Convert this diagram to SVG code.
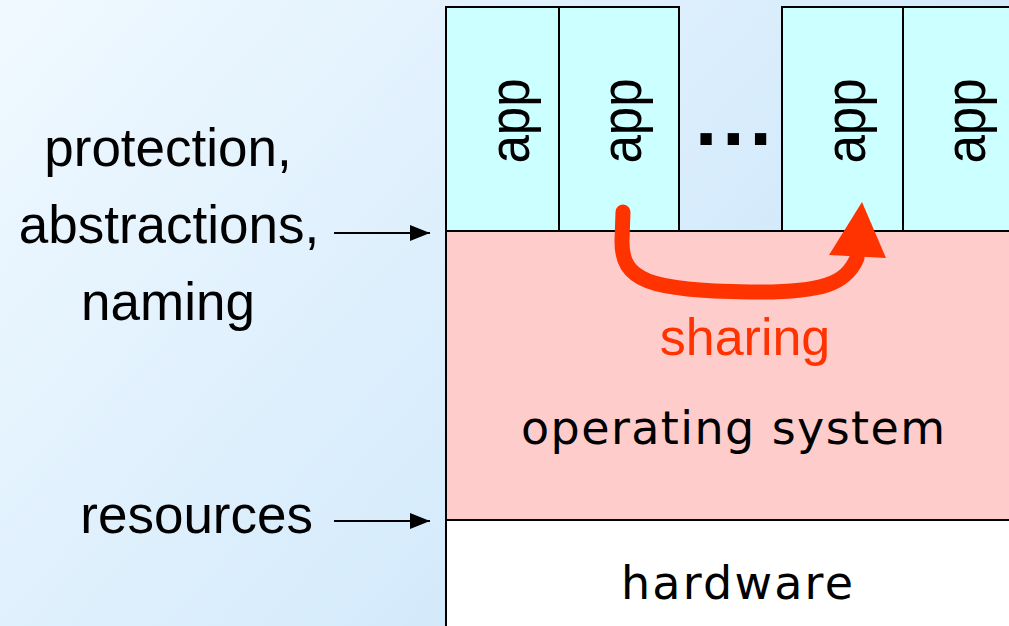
<svg xmlns="http://www.w3.org/2000/svg" width="1009" height="626" viewBox="0 0 1009 626">
<defs>
<linearGradient id="bg" x1="0" y1="0" x2="700" y2="626" gradientUnits="userSpaceOnUse">
<stop offset="0" stop-color="#F0F9FF"/>
<stop offset="1" stop-color="#CCE6FA"/>
</linearGradient>
<marker id="ah" viewBox="0 0 20 16" refX="20" refY="8" markerWidth="20" markerHeight="16" markerUnits="userSpaceOnUse" orient="auto">
<path d="M0,0 L20,8 L0,16 z" fill="#000"/>
</marker>
</defs>
<style>
.lbl{font-family:"Liberation Sans",Arial,sans-serif;font-size:53px;fill:#000}
.app{font-family:"Liberation Sans",Arial,sans-serif;font-size:58px;fill:#000;text-anchor:middle}
.box{stroke:#000;stroke-width:2}
.appbox{fill:#CCFFFF}
.layer{font-family:"DejaVu Sans",sans-serif;font-size:46px;fill:#000}
</style>
<rect x="0" y="0" width="1009" height="626" fill="url(#bg)"/>

<g id="hardware">
<rect class="box" x="446" y="520" width="600" height="120" fill="#FFFFFF"/>
<text class="layer" x="621" y="599" textLength="232" lengthAdjust="spacing">hardware</text>
</g>
<g id="os">
<rect class="box" x="446" y="231" width="600" height="289" fill="#FFCCCC"/>
<text class="layer" x="521" y="444" textLength="424" lengthAdjust="spacing">operating system</text>
</g>
<g id="app1">
<rect class="box appbox" x="446" y="7" width="113" height="224"/>
<text class="app" transform="translate(529,121) rotate(-90) scale(0.88,1)">app</text>
</g>
<g id="app2">
<rect class="box appbox" x="559" y="7" width="120" height="224"/>
<text class="app" transform="translate(641,121) rotate(-90) scale(0.88,1)">app</text>
</g>
<g id="ellipsis">
<text x="695" y="145" font-family="Liberation Sans, Arial, sans-serif" font-weight="bold" font-size="80" letter-spacing="5">...</text>
</g>
<g id="app3">
<rect class="box appbox" x="782" y="7" width="121" height="224"/>
<text class="app" transform="translate(865,121) rotate(-90) scale(0.88,1)">app</text>
</g>
<g id="app4">
<rect class="box appbox" x="903" y="7" width="140" height="224"/>
<text class="app" transform="translate(985,121) rotate(-90) scale(0.88,1)">app</text>
</g>

<g id="labels">
<text class="lbl" x="168" y="166" text-anchor="middle">protection,</text>
<text class="lbl" x="169" y="243" text-anchor="middle">abstractions,</text>
<text class="lbl" x="168" y="320" text-anchor="middle">naming</text>
<text class="lbl" x="313" y="533" text-anchor="end">resources</text>
</g>

<g id="connectors">
<line x1="334" y1="233" x2="430" y2="233" stroke="#000" stroke-width="2" marker-end="url(#ah)"/>
<line x1="334" y1="521" x2="430" y2="521" stroke="#000" stroke-width="2" marker-end="url(#ah)"/>
<path d="M623,212 L622,240 C621,282 650,290 750,292 C822,293 846,284 857,258" fill="none" stroke="#FF3300" stroke-width="15" stroke-linecap="round"/>
<polygon points="862,202 829,255 886,258" fill="#FF3300"/>
<text x="745" y="355" text-anchor="middle" font-family="Liberation Sans, Arial, sans-serif" font-size="52" fill="#FF3300">sharing</text>
</g>
</svg>
